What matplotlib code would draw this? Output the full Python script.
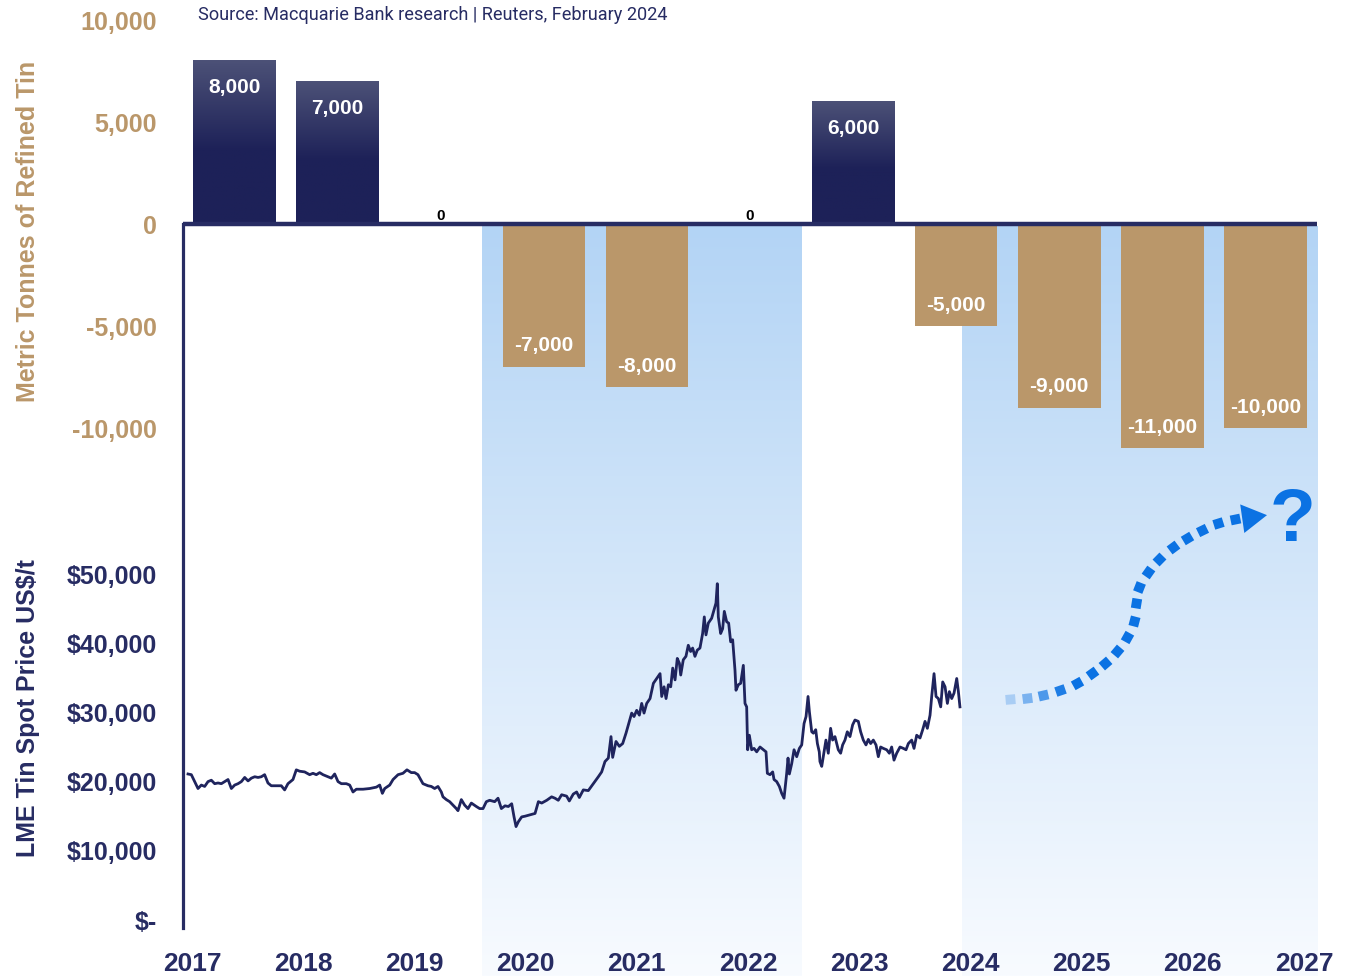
import numpy as np
import matplotlib
matplotlib.use('Agg')
import matplotlib.pyplot as plt
from matplotlib.colors import to_rgb
from matplotlib.lines import Line2D

plt.rcParams['font.family'] = ['Liberation Sans', 'DejaVu Sans']

NAVY = '#272c63'
LINE = '#1f245d'
TAN = '#ba976a'
ARROW = '#0b72e3'

### DATA
# refined tin market balance (metric tonnes), one bar per year
bar_years = ['2017', '2018', '2019', '2020', '2021', '2022',
             '2023', '2024', '2025', '2026', '2027']
balance = [8000, 7000, 0, -7000, -8000, 0, 6000, -5000, -9000, -11000, -10000]

# LME tin spot price, years since 2017 on the chart's time axis, US$/t
price_t = [
    -0.036, -0.006, 0.024, 0.054, 0.084, 0.114, 0.144, 0.174, 0.204, 0.234,
    0.264, 0.294, 0.324, 0.354, 0.384, 0.414, 0.444, 0.474, 0.504, 0.534,
    0.564, 0.594, 0.623, 0.653, 0.683, 0.713, 0.758, 0.803, 0.833, 0.863,
    0.908, 0.938, 0.968, 1.013, 1.058, 1.088, 1.118, 1.148, 1.178, 1.208,
    1.253, 1.283, 1.313, 1.343, 1.388, 1.418, 1.448, 1.478, 1.538, 1.598,
    1.658, 1.688, 1.712, 1.733, 1.778, 1.808, 1.853, 1.897, 1.933, 1.972,
    2.002, 2.032, 2.077, 2.122, 2.152, 2.182, 2.212, 2.242, 2.257, 2.287,
    2.317, 2.347, 2.377, 2.392, 2.422, 2.452, 2.482, 2.512, 2.557, 2.587,
    2.617, 2.647, 2.677, 2.722, 2.752, 2.782,
    2.815, 2.845, 2.875, 2.896, 2.914, 2.935, 2.965, 2.995, 3.040, 3.085,
    3.115, 3.145, 3.190, 3.234, 3.264, 3.294, 3.324, 3.369, 3.393, 3.429,
    3.459, 3.483, 3.519, 3.564, 3.609, 3.654, 3.684, 3.714, 3.744, 3.768,
    3.783, 3.813, 3.843, 3.873, 3.903, 3.933, 3.954, 3.975, 3.999, 4.023,
    4.044, 4.065, 4.089, 4.119, 4.149, 4.179, 4.209,
    4.224, 4.245, 4.263, 4.284, 4.305, 4.323, 4.344, 4.364, 4.383, 4.395,
    4.418, 4.442, 4.463, 4.484, 4.502, 4.523, 4.544, 4.568, 4.592, 4.607,
    4.622, 4.643, 4.673, 4.694, 4.712, 4.724, 4.733, 4.754, 4.772, 4.787,
    4.808, 4.826, 4.844, 4.862, 4.883, 4.892, 4.913, 4.934, 4.958, 4.973,
    4.988, 4.997, 5.012, 5.033, 5.054, 5.078, 5.108, 5.138, 5.162, 5.174,
    5.198, 5.222, 5.234, 5.258, 5.282, 5.303, 5.324, 5.348, 5.360, 5.372,
    5.393, 5.414, 5.438, 5.462, 5.483, 5.504, 5.522, 5.540, 5.552, 5.573,
    5.588, 5.609, 5.624, 5.641, 5.647,
    5.663, 5.677, 5.701, 5.722, 5.743, 5.761, 5.782, 5.812, 5.833, 5.851,
    5.872, 5.893, 5.917, 5.941, 5.962, 5.992, 6.013, 6.037, 6.061, 6.082,
    6.103, 6.127, 6.151, 6.172, 6.193, 6.217, 6.247, 6.271, 6.292, 6.313,
    6.337, 6.367, 6.397, 6.421, 6.442, 6.472, 6.493, 6.517, 6.547, 6.571,
    6.592, 6.613, 6.637, 6.652, 6.673, 6.691, 6.712, 6.733, 6.751, 6.772,
    6.793, 6.811, 6.832, 6.853, 6.877, 6.892, 6.906]
price_usd = [
    21100, 21000, 20000, 19000, 19500, 19300, 20000, 20200, 19700, 19800,
    19700, 20000, 20300, 19000, 19500, 19700, 20000, 20600, 20100, 20500,
    20700, 20600, 20700, 21000, 19800, 19400, 19400, 19400, 18800, 19700,
    20300, 21700, 21500, 21400, 21000, 21200, 21000, 21300, 21000, 20800,
    20500, 21100, 20000, 19700, 19700, 19500, 18500, 18900, 18900, 19000,
    19200, 19500, 18300, 19000, 19500, 20300, 21000, 21200, 21700, 21300,
    21300, 21000, 19700, 19400, 19300, 19000, 19300, 18500, 17800, 17400,
    17100, 16600, 16100, 15800, 17400, 16600, 16100, 16900, 16400, 16100,
    16100, 17100, 17300, 17100, 17600, 16100,
    16500, 16400, 16800, 14900, 13500, 14200, 14900, 15000, 15200, 15400,
    17100, 16900, 17300, 17800, 17600, 17300, 18100, 17900, 17200, 18200,
    18500, 17700, 18800, 18700, 19700, 20700, 21400, 22900, 23400, 26500,
    23500, 25800, 25100, 25500, 27000, 28700, 29900, 29400, 30300, 29600,
    31300, 29900, 31300, 32000, 34200, 34900, 35600,
    32300, 33700, 32000, 34000, 33700, 36400, 34700, 37800, 37100, 35400,
    37600, 38100, 39700, 38800, 39300, 38100, 39000, 39300, 41400, 43800,
    41200, 42900, 43600, 44800, 45800, 48600, 43800, 41400, 42100, 44600,
    43100, 42900, 40200, 40500, 36100, 33200, 34000, 34200, 36800, 31300,
    30800, 24600, 26700, 24600, 24800, 24300, 25000, 24600, 24300, 21200,
    21000, 21400, 20300, 20000, 19300, 18300, 17600, 21200, 23400, 21100,
    22600, 24600, 23600, 24800, 25300, 28400, 29400, 32300, 30100, 27200,
    27000, 27500, 25500, 24300, 22900,
    22200, 23600, 26000, 24100, 27700, 26000, 26500, 24600, 24100, 25300,
    26000, 27200, 26500, 28200, 28900, 28700, 27200, 26000, 25300, 26100,
    25500, 26000, 25300, 23600, 25000, 24800, 24600, 24100, 25000, 23100,
    24100, 25000, 24800, 24600, 25500, 26000, 24800, 26700, 26300, 27500,
    28700, 27700, 29600, 32300, 35600, 32300, 32000, 30800, 34400, 33700,
    31300, 33000, 32000, 32800, 34900, 33000, 30800]
price_year = 2017 + np.array(price_t)

# shaded deficit periods on the time axis
shade_spans = [(2019.61, 2022.48), (2023.92, 2027.12)]

# dotted "where next?" arrow, time axis / US$/t
arrow_year = [2024.36, 2024.51, 2024.65, 2024.81, 2024.96, 2025.09, 2025.21,
              2025.32, 2025.41, 2025.47, 2025.49, 2025.52, 2025.60, 2025.70,
              2025.82, 2025.95, 2026.08, 2026.23, 2026.38]
arrow_usd = [31900, 32100, 32500, 33200, 34200, 35700, 37100, 38900, 40900,
             43200, 45800, 48100, 50300, 52200, 53900, 55200, 56400, 57400,
             57900]
arrow_head = (2026.51, 58200)

year_ticks = list(range(2017, 2028))
price_ticks = [0, 10000, 20000, 30000, 40000, 50000]
price_labels = ['$-', '$10,000', '$20,000', '$30,000', '$40,000', '$50,000']
tonne_ticks = [-10000, -5000, 0, 5000, 10000]

### LAYOUT (figure pixels)
W, H = 1354, 976
fig = plt.figure(figsize=(W / 100, H / 100), dpi=100)
fig.patch.set_facecolor('white')


def px_axes(x0, y0, x1, y1):
    return fig.add_axes([x0 / W, 1 - y1 / H, (x1 - x0) / W, (y1 - y0) / H])


X0, X1 = 183, 1317           # plot area left/right
YR_PX, YR0_PX = 111.2, 192   # px per year, px of 2017
ZERO_PX = 224                # tonnes zero line
USD_PX = 69.2 / 10000        # px per US$
USD0_PX = 920                # px of $0
T_PX = 408 / 20000           # px per tonne
year_lim = (2017 + (X0 - YR0_PX) / YR_PX, 2017 + (X1 - YR0_PX) / YR_PX)

# background gradient for the shaded periods
bg = px_axes(X0, ZERO_PX + 2, X1, H)
bg.set_xlim(year_lim)
bg.set_ylim(0, 1)
bg.axis('off')
top_c, bot_c = np.array(to_rgb('#b3d4f5')), np.array(to_rgb('#f8fbff'))
grad = np.linspace(0, 1, 256)[:, None, None]
grad_img = top_c * (1 - grad) + bot_c * grad
for s0, s1 in shade_spans:
    bg.imshow(grad_img, extent=(s0, s1, 0, 1), aspect='auto', zorder=0)
bg.set_xlim(year_lim)
bg.set_ylim(0, 1)

# bar chart
BAR_BOT = 470
axb = px_axes(X0, 0, X1, BAR_BOT)
axb.patch.set_alpha(0)
bw = 0.8
lo_c, hi_c = np.array(to_rgb('#1d2158')), np.array(to_rgb('#4c5177'))
for i, v in enumerate(balance):
    if v > 0:
        g = np.clip(np.linspace(0, 1, 128) / 0.55, 0, 1)[:, None, None]
        img = hi_c * (1 - g) + lo_c * g
        axb.imshow(img, extent=(i - bw / 2, i + bw / 2, 0, v), aspect='auto', zorder=2)
        axb.annotate(f'{v:,}', (i, v), xytext=(0, -19.5), textcoords='offset points',
                     ha='center', va='center', color='white', fontsize=15, fontweight='bold', zorder=4)
    elif v < 0:
        axb.bar(i, v, width=bw, color=TAN, zorder=2)
        axb.annotate(f'{v:,}', (i, v), xytext=(0, 15), textcoords='offset points',
                     ha='center', va='center', color='white', fontsize=15, fontweight='bold', zorder=4)
    else:
        axb.annotate('0', (i, 0), xytext=(0, 6), textcoords='offset points',
                     ha='center', va='center', color='black', fontsize=11, fontweight='bold', zorder=4)
axb.set_xlim(-0.5, len(bar_years) - 0.5)
axb.set_ylim(-(BAR_BOT - ZERO_PX) / T_PX, ZERO_PX / T_PX)
axb.axhline(0, color=NAVY, lw=3.2, zorder=5)
for s in axb.spines.values():
    s.set_visible(False)
axb.set_xticks([])
axb.set_yticks(tonne_ticks)
axb.set_yticklabels([f'{v:,}' for v in tonne_ticks])
axb.tick_params(axis='y', length=0, pad=19, labelsize=18, labelcolor=TAN)
for lab in axb.get_yticklabels():
    lab.set_fontweight('bold')

# price line
LINE_BOT = 928
axl = px_axes(X0, BAR_BOT, X1, LINE_BOT)
axl.patch.set_alpha(0)
axl.plot(price_year, price_usd, color=LINE, lw=2.0, zorder=3)
axl.set_xlim(year_lim)
axl.set_ylim((USD0_PX - LINE_BOT) / USD_PX, (USD0_PX - BAR_BOT) / USD_PX)
for s in axl.spines.values():
    s.set_visible(False)
axl.set_xticks(year_ticks)
axl.set_xticklabels([str(y) for y in year_ticks])
axl.set_yticks(price_ticks)
axl.set_yticklabels(price_labels)
axl.tick_params(axis='x', length=0, pad=17, labelsize=19, labelcolor=NAVY)
axl.tick_params(axis='y', length=0, pad=19, labelsize=18, labelcolor=NAVY)
for lab in axl.get_xticklabels() + axl.get_yticklabels():
    lab.set_fontweight('bold')

# shared left axis line, from the zero line down to the bottom of the price panel
fig.add_artist(Line2D([X0 / W, X0 / W], [1 - ZERO_PX / H, 1 - LINE_BOT / H],
                      color=NAVY, lw=2.3, transform=fig.transFigure, zorder=6))

# dotted forecast arrow
pts = axl.transData.transform(np.column_stack([arrow_year, arrow_usd]))
ang = np.degrees(np.arctan2(np.gradient(pts[:, 1]), np.gradient(pts[:, 0])))
alphas = np.minimum(1.0, 0.25 + 0.22 * np.arange(len(arrow_year)))
for xi, yi, a, al in zip(arrow_year, arrow_usd, ang, alphas):
    axl.plot(xi, yi, marker=(4, 0, 45 + a), markersize=10, color=ARROW,
             alpha=al, markeredgewidth=0, zorder=4, clip_on=False)
head_ang = np.degrees(np.arctan2(*(axl.transData.transform(arrow_head) - pts[-1])[::-1]))
axl.plot(*arrow_head, marker=(3, 0, head_ang - 90), markersize=24, color=ARROW,
         markeredgewidth=0, zorder=4, clip_on=False)
axl.text(2026.90, 54800, '?', fontsize=54, fontweight='bold', color=ARROW,
         ha='center', va='baseline', zorder=4)

# axis titles and source
fig.text(28 / W, 1 - 231 / H, 'Metric Tonnes of Refined Tin', rotation=90,
         ha='center', va='center', fontsize=18, fontweight='bold', color=TAN)
fig.text(28 / W, 1 - 708 / H, 'LME Tin Spot Price US$/t', rotation=90,
         ha='center', va='center', fontsize=18, fontweight='bold', color=NAVY)
fig.text(198 / W, 1 - 15 / H, 'Source: Macquarie Bank research | Reuters, February 2024',
         ha='left', va='center', fontsize=13.1, family='Roboto', color=NAVY)

fig.savefig('out.png', dpi=100, facecolor='white')
